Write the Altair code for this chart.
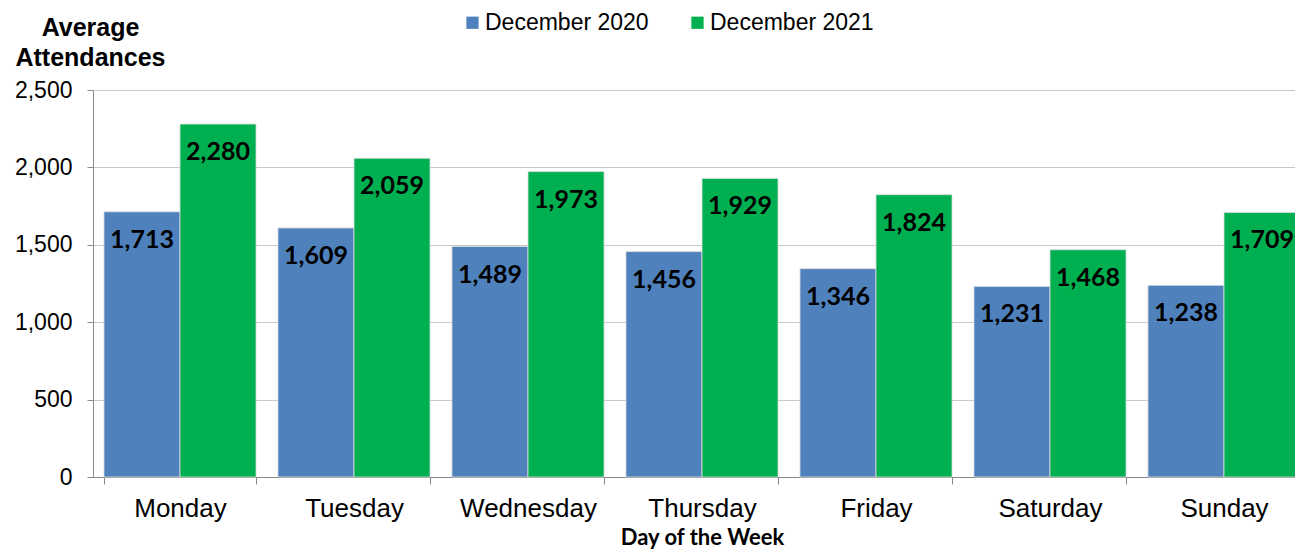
import altair as alt
import pandas as pd

days = ["Monday", "Tuesday", "Wednesday", "Thursday", "Friday", "Saturday", "Sunday"]
dec2020 = [1713, 1609, 1489, 1456, 1346, 1231, 1238]
dec2021 = [2280, 2059, 1973, 1929, 1824, 1468, 1709]
series = ["December 2020", "December 2021"]
colors = ["#4F81BD", "#00B050"]

rows = []
for d, a, b in zip(days, dec2020, dec2021):
    rows.append({"day": d, "series": series[0], "value": a})
    rows.append({"day": d, "series": series[1], "value": b})
df = pd.DataFrame(rows)

x = alt.X("day:N", sort=days,
          scale=alt.Scale(paddingInner=0.126, paddingOuter=0.063),
          axis=alt.Axis(title="Day of the Week", labelAngle=0, labelFont="Liberation Sans",
                        labelFontSize=26, labelColor="black", labelPadding=11,
                        tickBand="extent", tickSize=7, tickColor="#888888",
                        domainColor="#888888", titleFont="Lato", titleFontWeight="bold",
                        titleFontSize=22, titleColor="black", titlePadding=6))
xo = alt.XOffset("series:N", sort=series)
yscale = alt.Scale(domain=[0, 2500], nice=False)

bars = alt.Chart(df).mark_bar(stroke="#e0e0e0", strokeWidth=0.8).encode(
    x=x, xOffset=xo,
    y=alt.Y("value:Q", scale=yscale,
            axis=alt.Axis(values=[0, 500, 1000, 1500, 2000, 2500], format=",d",
                          title=["Average", "Attendances"], titleAngle=0,
                          titleAlign="center", titleBaseline="middle",
                          titleX=-3, titleY=-63, titleLineHeight=30,
                          titleFont="Liberation Sans", titleFontWeight="bold",
                          titleFontSize=25, titleColor="black",
                          labelFont="Liberation Sans", labelFontSize=23, labelColor="black",
                          labelPadding=15, tickSize=6, tickColor="#888888",
                          domainColor="#888888", gridColor="#C8C8C8")),
    color=alt.Color("series:N", sort=series,
                    scale=alt.Scale(domain=series, range=colors),
                    legend=alt.Legend(title=None, orient="none", legendX=368, legendY=-79,
                                      direction="horizontal", symbolType="square",
                                      symbolSize=150, symbolStrokeWidth=0, labelLimit=400,
                                      labelFont="Liberation Sans", labelFontSize=23,
                                      labelColor="black", columnPadding=37, labelOffset=1)),
)

labels = alt.Chart(df).mark_text(font="Lato", fontWeight="bold", fontSize=25,
                                 color="black", baseline="middle", dy=28).encode(
    x=x, xOffset=xo,
    y=alt.Y("value:Q", scale=yscale),
    text=alt.Text("value:Q", format=",d"),
)

chart = (bars + labels).properties(
    width=1218, height=387,
    autosize=alt.AutoSizeParams(type="none"),
    padding={"left": 85, "top": 82, "right": -16, "bottom": 73},
).configure_view(stroke=None)
chart.save("out.html", embed_options={"renderer": "svg", "actions": False})
